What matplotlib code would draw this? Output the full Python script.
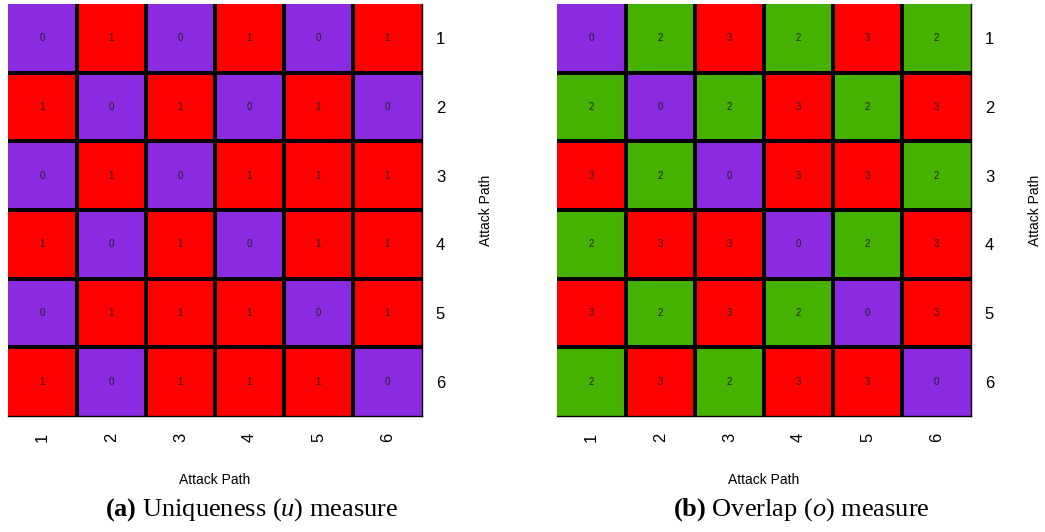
import numpy as np
import matplotlib
matplotlib.use("Agg")
import matplotlib.pyplot as plt
from matplotlib.colors import ListedColormap, BoundaryNorm

plt.rcParams["font.family"] = ["Liberation Sans", "DejaVu Sans"]
plt.rcParams["mathtext.fontset"] = "custom"
plt.rcParams["mathtext.rm"] = "Liberation Serif"
plt.rcParams["mathtext.it"] = "Liberation Serif:italic"
plt.rcParams["mathtext.bf"] = "Liberation Serif:bold"

PATHS = ["1", "2", "3", "4", "5", "6"]

uniqueness = [
    [0, 1, 0, 1, 0, 1],
    [1, 0, 1, 0, 1, 0],
    [0, 1, 0, 1, 1, 1],
    [1, 0, 1, 0, 1, 1],
    [0, 1, 1, 1, 0, 1],
    [1, 0, 1, 1, 1, 0],
]

overlap = [
    [0, 2, 3, 2, 3, 2],
    [2, 0, 2, 3, 2, 3],
    [3, 2, 0, 3, 3, 2],
    [2, 3, 3, 0, 2, 3],
    [3, 2, 3, 2, 0, 3],
    [2, 3, 2, 3, 3, 0],
]

PURPLE = "#8A2BE2"
RED = "#FF0000"
GREEN = "#46B200"

CAPTIONS = [
    r"$\mathbf{(a)}$ Uniqueness ($u$) measure",
    r"$\mathbf{(b)}$ Overlap ($o$) measure",
]


def draw_heatmap(ax, data, levels, colors):
    data = np.array(data)
    cmap = ListedColormap(colors)
    bounds = [levels[0] - 0.5] + [l + 0.5 for l in levels]
    norm = BoundaryNorm(bounds, cmap.N)
    ax.imshow(data, cmap=cmap, norm=norm, aspect="auto", interpolation="nearest")
    n = data.shape[0]
    for k in range(1, n):
        ax.axhline(k - 0.5, color="black", lw=2.9)
        ax.axvline(k - 0.5, color="black", lw=2.9)
    for i in range(n):
        for j in range(data.shape[1]):
            ax.text(j, i, str(data[i, j]), ha="center", va="center",
                    fontsize=7, color="#222222")
    ax.set_xticks(range(n))
    ax.set_xticklabels(PATHS, rotation=90, fontsize=12)
    ax.set_yticks(range(n))
    ax.set_yticklabels(PATHS, fontsize=12)
    ax.yaxis.tick_right()
    ax.yaxis.set_label_position("right")
    ax.tick_params(axis="y", length=0, pad=10)
    ax.tick_params(axis="x", length=0, pad=12)
    for side in ["top", "left"]:
        ax.spines[side].set_visible(False)
    for side in ["bottom", "right"]:
        ax.spines[side].set_linewidth(1.0)
    ax.set_xlabel("Attack Path", fontsize=10, labelpad=22)
    ax.set_ylabel("Attack Path", fontsize=10, labelpad=24)


fig = plt.figure(figsize=(10.45, 5.32), dpi=100)
ax1 = fig.add_axes([8 / 1045, 1 - 416 / 532, 414 / 1045, 412 / 532])
ax2 = fig.add_axes([557 / 1045, 1 - 416 / 532, 414 / 1045, 412 / 532])

draw_heatmap(ax1, uniqueness, [0, 1], [PURPLE, RED])
draw_heatmap(ax2, overlap, [0, 2, 3], [PURPLE, GREEN, RED])

for x, caption in zip([252, 801], CAPTIONS):
    fig.text(x / 1045, 1 - 510 / 532, caption, ha="center", va="center",
             fontsize=19, family="Liberation Serif")

plt.savefig("out.png", dpi=100)
